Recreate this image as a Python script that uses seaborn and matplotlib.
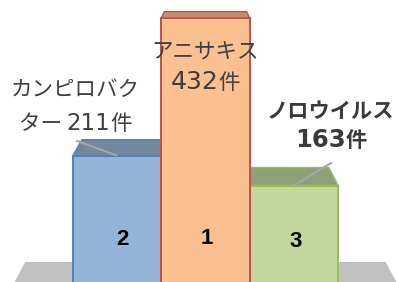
import re
import matplotlib
matplotlib.use("Agg")
import matplotlib.pyplot as plt
import seaborn as sns
import numpy as np
from matplotlib.patches import Polygon
from matplotlib.offsetbox import TextArea, HPacker, VPacker, AnnotationBbox

# ---- data ----
categories = ["カンピロバクター", "アニサキス", "ノロウイルス"]
counts = [211, 432, 163]
ranks = [2, 1, 3]
label_names = ["カンピロバク\nター ", "アニサキス\n", "ノロウイルス\n"]

# ---- style ----
front_colors = ["#95b3d7", "#fac090", "#c3d69b"]
top_colors = ["#73879f", "#c2906b", "#8fa077"]
edge_colors = ["#4f81bd", "#c0504d", "#9bbb59"]
zorders = [2, 4, 3]
label_offsets_px = [(-42, 49), (0, -49.5), (37, 59)]
label_weights = ["normal", "normal", "bold"]
label_colors = ["#404040", "#404040", "#3a3a3a"]
label_sep = [8.0, 5.6, 4.3]
kana_size = [15.5, 15.5, 15.3]
digit_size = [16.5, 18, 17.5]
rank_offsets_px = [(5, -84), (1, -220), (2, -56)]
leader_offsets_px = [(-41, 15), None, (38, 23)]
VP_PX = (205, -75)      # vanishing point in image pixels (from top-left)
DEPTH = 0.069
FLOOR_PAD = 0.69

sns.set_theme(style="white")
plt.rcParams["font.family"] = ["Noto Sans CJK JP", "DejaVu Sans"]

W, H = 398, 282
fig = plt.figure(figsize=(W / 100, H / 100), dpi=100)
ax = fig.add_axes([0, 0, 1, 1])

sns.barplot(x=categories, y=counts, hue=categories, palette=front_colors,
            width=1.0, legend=False, ax=ax, saturation=1)
ax.set_xlim(-1.325, 3.178)
ax.set_ylim(8, 461)
ax.axis("off")

def px_to_disp(px, py):
    return np.array([px, H - py])

vp = px_to_disp(*VP_PX)
inv = ax.transData.inverted()

def back_of(pts_data):
    d = ax.transData.transform(pts_data)
    b = d + DEPTH * (vp - d)
    return inv.transform(b)

# floor
fx0, fx1 = -0.5 - FLOOR_PAD, len(categories) - 0.5 + FLOOR_PAD
front = np.array([[fx0, 0], [fx1, 0]])
back = back_of(front)
floor = Polygon([front[0], front[1], back[1], back[0]], closed=True,
                facecolor="#c0c0c0", edgecolor="none", zorder=0)
ax.add_patch(floor)


def make_label(text, i):
    kana = dict(family=["Noto Sans CJK JP", "DejaVu Sans"], size=kana_size[i],
                weight=label_weights[i], color=label_colors[i])
    digit = dict(family=["DejaVu Sans"], size=digit_size[i],
                 weight=label_weights[i], color=label_colors[i])
    rows = []
    for line in text.split("\n"):
        parts = [s for s in re.split(r"(\d+)", line) if s]
        boxes = [TextArea(s, textprops=(digit if s.isdigit() else kana))
                 for s in parts]
        rows.append(HPacker(children=boxes, align="baseline", pad=0, sep=0))
    return VPacker(children=rows, align="center", pad=0, sep=label_sep[i])


for i, p in enumerate(ax.patches[:len(categories)]):
    x0 = p.get_x()
    x1 = x0 + p.get_width()
    h = p.get_height()
    p.set_edgecolor(edge_colors[i])
    p.set_linewidth(1.4)
    p.set_zorder(zorders[i])
    fr = np.array([[x0, h], [x1, h]])
    bk = back_of(fr)
    top = Polygon([fr[0], fr[1], bk[1], bk[0]], closed=True,
                  facecolor=top_colors[i], edgecolor=edge_colors[i],
                  linewidth=1.0, zorder=zorders[i])
    ax.add_patch(top)
    cx = x0 + p.get_width() / 2
    # leader line
    if leader_offsets_px[i] is not None:
        dx, dy = leader_offsets_px[i]
        a = ax.transData.transform((cx, h))
        s = inv.transform(a + np.array([dx, dy]))
        ax.plot([cx, s[0]], [h, s[1]], color="#a6a6a6", lw=1.5,
                zorder=zorders[i] + 0.5, solid_capstyle="butt")
    # value label
    box = make_label(f"{label_names[i]}{counts[i]}件", i)
    ab = AnnotationBbox(box, (cx, h), xybox=label_offsets_px[i],
                        boxcoords="offset pixels", frameon=False, pad=0,
                        box_alignment=(0.5, 0.5), zorder=10)
    ax.add_artist(ab)
    # rank label
    ax.annotate(str(ranks[i]), xy=(cx, h), xytext=rank_offsets_px[i],
                textcoords="offset pixels", ha="center", va="center",
                fontsize=16, fontweight="bold", color="black",
                family=["Liberation Sans", "DejaVu Sans"], zorder=10)

fig.savefig("out.png", dpi=100)
